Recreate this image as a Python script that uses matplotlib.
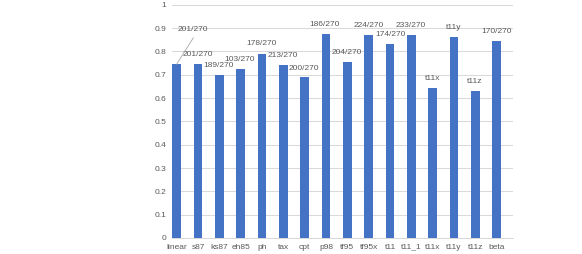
import numpy as np
import matplotlib.pyplot as plt

plt.rcParams['font.family'] = ['Liberation Sans', 'DejaVu Sans']

categories = ["linear", "s87", "ks87", "eh85", "ph", "tax", "cpt", "p98",
              "tf95", "tf95x", "t11", "t11_1", "t11x", "t11y", "t11z", "beta"]
values = [0.745, 0.745, 0.70, 0.725, 0.79, 0.74, 0.69, 0.874,
          0.755, 0.872, 0.83, 0.872, 0.644, 0.863, 0.63, 0.844]
labels = ["201/270", "201/270", "189/270", "103/270", "178/270", "213/270",
          "200/270", "186/270", "204/270", "224/270", "174/270", "233/270",
          "t11x", "t11y", "t11z", "170/270"]
# where each data label sits (x, y) in data units
label_pos = [(0.76, 0.893), (1.0, 0.785), (1.97, 0.738), (2.97, 0.764),
             (3.97, 0.833), (4.97, 0.781), (5.97, 0.725), (6.95, 0.914),
             (7.98, 0.794), (8.98, 0.91), (10.0, 0.871), (10.98, 0.91),
             (11.98, 0.682), (12.96, 0.901), (13.98, 0.67), (14.97, 0.884)]

bar_color = "#4472C4"
text_color = "#595959"
grid_color = "#D9D9D9"

fig = plt.figure(figsize=(5.82, 2.54), dpi=100)
ax = fig.add_axes([0.295, 0.063, 0.586, 0.9185])

x = np.arange(len(categories))
ax.bar(x, values, width=0.4, color=bar_color, zorder=3)

ax.set_ylim(0, 1)
ax.set_xlim(-0.234, 15.75)
ax.set_yticks(np.arange(0, 1.01, 0.1))
ax.set_yticklabels(["0"] + [f"{v:.1f}" for v in np.arange(0.1, 0.95, 0.1)] + ["1"])
ax.set_xticks(x)
ax.set_xticklabels(categories)
ax.tick_params(axis='both', length=0, labelsize=6, colors=text_color)
ax.tick_params(axis='y', pad=4)
ax.tick_params(axis='x', pad=4)
ax.yaxis.grid(True, color=grid_color, linewidth=0.75, zorder=0)
for s in ["top", "right", "left"]:
    ax.spines[s].set_visible(False)
ax.spines["bottom"].set_color(grid_color)
ax.spines["bottom"].set_linewidth(0.75)

for (lx, ly), txt in zip(label_pos, labels):
    ax.text(lx, ly, txt, ha='center', va='center', fontsize=6, color=text_color, zorder=4)

# leader line for the first label
ax.plot([0, 0.78], [values[0], 0.858], color="#A6A6A6", linewidth=0.6, zorder=4)

fig.savefig("out.png", dpi=100)
